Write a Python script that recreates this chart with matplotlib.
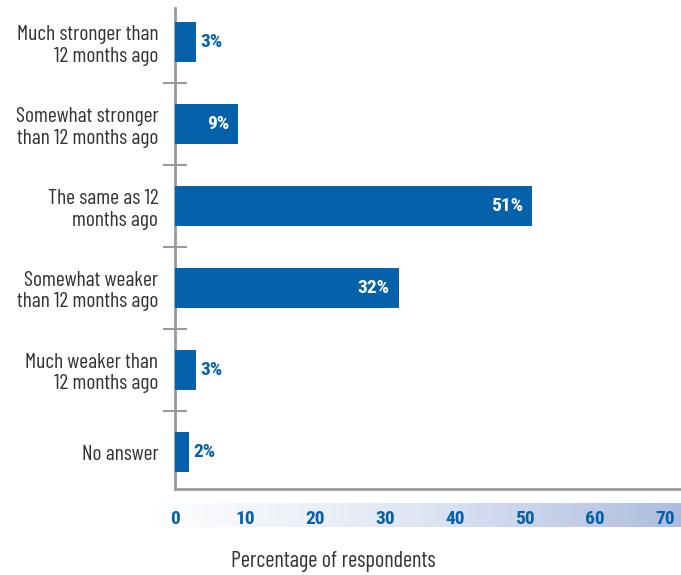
import numpy as np
import matplotlib
matplotlib.use("Agg")
import matplotlib.pyplot as plt
from matplotlib.colors import LinearSegmentedColormap

plt.rcParams['font.family'] = ['Barlow Condensed', 'DejaVu Sans']
NUM_FONT = ['Roboto Condensed', 'DejaVu Sans']

# survey answers, top to bottom
categories = [
    "Much stronger than\n12 months ago",
    "Somewhat stronger\nthan 12 months ago",
    "The same as 12\nmonths ago",
    "Somewhat weaker\nthan 12 months ago",
    "Much weaker than\n12 months ago",
    "No answer",
]
values = [3, 9, 51, 32, 3, 2]
xticks = [0, 10, 20, 30, 40, 50, 60, 70]

BLUE = "#0561aa"
GRAY = "#9a9a9a"

fig = plt.figure(figsize=(6.81, 5.75), dpi=100)

# gradient strip behind the x tick labels
band = fig.add_axes([150 / 681, 48 / 575, 531 / 681, 24 / 575], zorder=0)
cmap = LinearSegmentedColormap.from_list("band", ["#ffffff", "#dfe6f4", "#aebddf"])
band.imshow(np.linspace(0, 1, 256).reshape(1, -1), aspect="auto", cmap=cmap,
            extent=[0, 1, 0, 1])
band.set_axis_off()

ax = fig.add_axes([175 / 681, 86 / 575, 506 / 681, 481 / 575], zorder=1)
ax.patch.set_alpha(0)

y = np.arange(len(categories))
ax.barh(y, values, height=0.49, color=BLUE, zorder=3)

for yi, v in zip(y, values):
    if v >= 5:
        ax.text(v - 1.3, yi, f"{v}%", ha="right", va="center", color="white",
                fontsize=14, fontweight="bold", family=NUM_FONT, zorder=4)
    else:
        ax.text(v + 0.6, yi, f"{v}%", ha="left", va="center", color=BLUE,
                fontsize=14, fontweight="bold", family=NUM_FONT, zorder=4)

ax.set_xlim(0, 72.3)
ax.set_ylim(5.45, -0.42)

ax.set_yticks(y)
ax.set_yticklabels(categories, fontsize=15.5, color="#333333", linespacing=1.15)
ax.tick_params(axis="y", which="major", length=0, pad=12)
ax.set_yticks(y[:-1] + 0.5, minor=True)
ax.tick_params(axis="y", which="minor", direction="inout", length=17,
               width=1.5, color=GRAY)

ax.set_xticks(xticks)
ax.set_xticklabels([str(t) for t in xticks], fontsize=14, fontweight="bold",
                   color=BLUE, family=NUM_FONT)
ax.tick_params(axis="x", length=0, pad=15)

for side in ("top", "right"):
    ax.spines[side].set_visible(False)
for side in ("left", "bottom"):
    ax.spines[side].set_color(GRAY)
    ax.spines[side].set_linewidth(2)

fig.text(333 / 681, 13 / 575, "Percentage of respondents", ha="center",
         va="center", fontsize=16, color="#333333")

fig.savefig("out.png", dpi=100)
